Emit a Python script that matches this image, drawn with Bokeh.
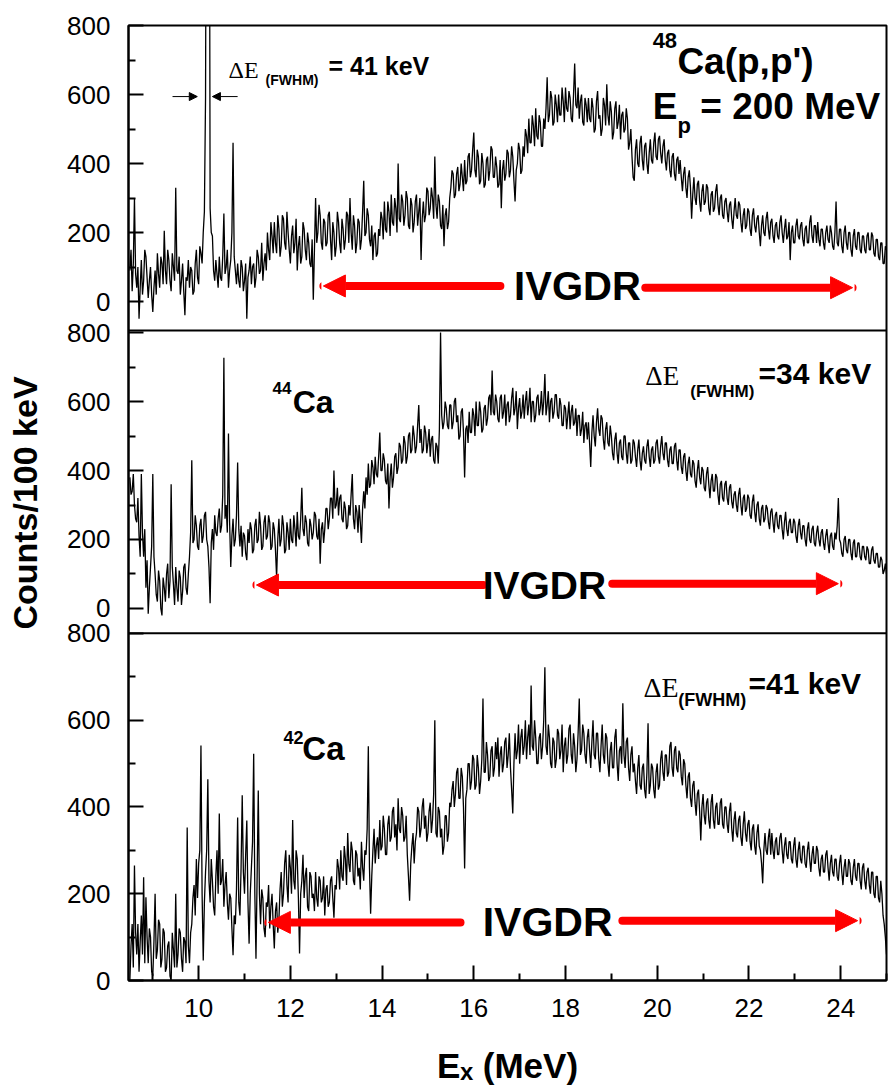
import numpy as np
from bokeh.plotting import figure
from bokeh.models import (Range1d, FixedTicker, CustomJSTickFormatter, Label,
                          Arrow, NormalHead, Span, ColumnDataSource)
from bokeh.embed import file_html
from bokeh.resources import INLINE

# ---------------------------------------------------------------- data
# Excitation-energy bins (MeV): 8.500, 8.525, ... 25.000  (one row = 1 MeV)
E_START, E_STEP = 8.5, 0.025

# 48Ca(p,p') counts per bin
ca48_counts = [
    90, 150, 30, 110, 300, 80, 40, 100, -50, 40, 120, 20, 60, 150, 130, 70, 10, 60, 100, 20, -30, 40, 90, 20, 140, 80, 40, 130, 110, 50, 205, 90, 50, 150, 120, 60, 30, 140, 100, 60,
    330, 90, 80, 130, 20, 60, 110, 30, -40, 70, 60, 120, 40, 100, 90, 20, 30, 110, 150, 70, 50, 160, 140, 110, 200, 260, 590, 1800, 3000, 2000, 270, 200, 190, 90, 60, 120, 80, 40, 130, 70,
    60, 130, 255, 80, 100, 150, 40, 90, 120, 200, 460, 130, 90, 50, 110, 60, 40, 120, 100, 30, 60, 110, -50, 70, 90, 130, 50, 100, 110, 40, 70, 150, 130, 80, 90, 170, 60, 110, 140, 90,
    200, 150, 120, 230, 190, 140, 230, 170, 140, 250, 210, 130, 160, 250, 240, 170, 150, 260, 200, 150, 110, 190, 220, 140, 170, 240, 90, 160, 190, 110, 130, 230, 210, 150, 120, 200, 170, 110, 100, 180,
    5, 150, 300, 170, 200, 280, 250, 170, 150, 240, 230, 160, 170, 250, 260, 180, 120, 230, 200, 130, 160, 260, 230, 170, 140, 240, 210, 150, 180, 260, 250, 170, 300, 200, 150, 250, 220, 140, 170, 240,
    230, 150, 180, 260, 350, 190, 200, 270, 250, 180, 160, 220, 120, 190, 200, 130, 140, 210, 190, 260, 240, 180, 290, 210, 200, 290, 260, 190, 310, 230, 220, 300, 270, 200, 400, 240, 230, 310, 290, 220,
    250, 320, 300, 220, 210, 300, 280, 200, 230, 290, 310, 220, 260, 300, 120, 240, 290, 230, 250, 330, 320, 250, 270, 330, 300, 240, 420, 280, 240, 310, 290, 220, 210, 280, 160, 250, 270, 210, 230, 300,
    330, 380, 370, 300, 310, 370, 390, 320, 340, 400, 360, 320, 410, 340, 350, 420, 430, 360, 380, 440, 490, 380, 360, 440, 420, 340, 350, 430, 400, 330, 340, 410, 420, 350, 380, 450, 440, 360, 360, 420,
    390, 330, 340, 410, 270, 380, 410, 350, 370, 440, 430, 360, 380, 450, 420, 350, 290, 380, 400, 460, 440, 370, 380, 450, 420, 500, 480, 430, 530, 460, 460, 540, 510, 450, 560, 480, 470, 540, 520, 450,
    450, 530, 500, 560, 650, 520, 540, 610, 590, 510, 520, 600, 570, 520, 600, 540, 540, 620, 580, 520, 620, 560, 550, 610, 590, 530, 520, 600, 690, 570, 560, 620, 530, 580, 600, 520, 510, 590, 570, 520,
    590, 530, 520, 590, 560, 490, 500, 580, 610, 530, 540, 480, 500, 590, 570, 510, 630, 540, 510, 580, 550, 470, 490, 560, 580, 500, 520, 570, 470, 540, 550, 490, 500, 560, 530, 440, 460, 500, 420, 360,
    350, 440, 470, 400, 390, 460, 480, 410, 380, 450, 460, 400, 370, 430, 470, 410, 400, 460, 490, 420, 410, 470, 480, 430, 400, 450, 470, 410, 380, 430, 440, 380, 360, 420, 430, 370, 350, 410, 420, 370,
    410, 360, 320, 370, 390, 330, 300, 360, 380, 330, 240, 310, 360, 300, 280, 340, 350, 290, 260, 320, 340, 280, 290, 340, 330, 270, 250, 310, 320, 260, 270, 320, 340, 280, 250, 300, 310, 250, 240, 290,
    300, 260, 230, 280, 290, 240, 210, 260, 300, 250, 240, 290, 280, 230, 200, 250, 270, 210, 220, 270, 260, 210, 190, 250, 270, 220, 200, 240, 250, 200, 160, 220, 250, 200, 190, 240, 260, 210, 180, 230,
    240, 190, 170, 220, 230, 190, 180, 230, 250, 200, 170, 210, 240, 180, 190, 230, 120, 200, 220, 170, 170, 220, 240, 190, 180, 220, 230, 180, 160, 210, 220, 170, 170, 230, 250, 190, 170, 220, 220, 170,
    230, 180, 160, 210, 210, 170, 150, 200, 220, 180, 170, 220, 200, 160, 150, 200, 290, 170, 160, 210, 210, 160, 140, 200, 220, 170, 150, 200, 200, 150, 130, 190, 210, 160, 150, 200, 200, 150, 140, 190,
    190, 150, 140, 190, 200, 150, 150, 200, 190, 140, 130, 180, 180, 130, 120, 170, 170, 110, 110, 160, 150,
]

# 44Ca counts per bin
ca44_counts = [
    380, 330, 340, 390, 300, 260, 250, 320, 210, 150, 390, 220, 150, 230, 60, 140, -15, 60, 120, 180, 390, 150, 100, 40, 20, 110, 80, 0, -20, 90, 60, 20, 100, 130, 30, 80, 360, 120, 70, 10,
    120, 60, 20, 110, 90, 10, 50, 120, 130, 60, 40, 100, 150, 220, 430, 190, 200, 270, 240, 180, 170, 240, 260, 190, 210, 270, 280, 200, 180, 120, 15, 190, 230, 170, 270, 220, 210, 260, 290, 220,
    240, 330, 727, 260, 300, 220, 507, 250, 120, 210, 260, 180, 200, 270, 423, 230, 180, 240, 150, 220, 210, 160, 140, 230, 190, 250, 230, 160, 170, 240, 260, 190, 200, 280, 240, 170, 180, 250, 270, 200,
    210, 270, 250, 170, 180, 250, 230, 170, 90, 200, 260, 180, 200, 270, 240, 160, 170, 250, 220, 170, 260, 200, 190, 270, 230, 180, 280, 210, 200, 260, 350, 230, 210, 270, 250, 190, 180, 260, 240, 200,
    220, 280, 270, 210, 200, 260, 130, 230, 250, 190, 230, 290, 290, 230, 260, 320, 320, 260, 400, 290, 300, 350, 270, 320, 330, 260, 250, 310, 290, 230, 240, 300, 270, 330, 390, 260, 230, 300, 280, 220,
    300, 250, 190, 290, 340, 290, 380, 330, 420, 350, 360, 430, 410, 360, 440, 390, 380, 440, 510, 400, 400, 450, 430, 370, 360, 420, 290, 380, 420, 350, 380, 440, 450, 390, 410, 480, 470, 420, 430, 500,
    480, 420, 440, 500, 510, 450, 460, 530, 500, 450, 470, 530, 590, 480, 520, 450, 460, 530, 510, 450, 480, 520, 440, 490, 500, 430, 420, 480, 470, 420, 520, 800, 560, 520, 540, 600, 580, 530, 520, 590,
    590, 520, 540, 600, 610, 540, 560, 490, 500, 570, 580, 510, 380, 520, 530, 480, 570, 510, 510, 580, 560, 500, 600, 530, 530, 600, 570, 510, 520, 580, 590, 530, 550, 610, 620, 560, 690, 570, 560, 620,
    600, 550, 540, 610, 620, 550, 570, 620, 530, 590, 600, 540, 560, 610, 640, 560, 580, 630, 520, 580, 610, 550, 570, 620, 550, 600, 630, 560, 590, 640, 540, 600, 600, 540, 560, 610, 620, 560, 580, 630,
    560, 600, 680, 560, 590, 630, 540, 600, 610, 550, 570, 620, 620, 560, 550, 610, 590, 530, 530, 590, 580, 520, 560, 600, 520, 570, 590, 530, 540, 580, 500, 560, 560, 500, 520, 570, 480, 530, 540, 490,
    540, 480, 410, 510, 560, 500, 470, 540, 580, 520, 500, 560, 550, 490, 460, 520, 540, 480, 470, 530, 500, 450, 430, 490, 510, 450, 420, 480, 490, 440, 430, 500, 500, 450, 420, 480, 480, 420, 430, 490,
    480, 440, 410, 460, 490, 430, 400, 450, 470, 430, 420, 470, 490, 440, 410, 460, 470, 420, 430, 480, 490, 440, 420, 470, 500, 450, 430, 480, 480, 430, 410, 460, 470, 420, 420, 470, 480, 430, 400, 460,
    460, 410, 390, 440, 450, 400, 370, 420, 440, 390, 380, 430, 420, 370, 350, 400, 430, 380, 360, 410, 400, 350, 340, 390, 410, 360, 320, 370, 390, 340, 340, 390, 380, 330, 300, 360, 370, 320, 310, 360,
    370, 320, 300, 350, 360, 310, 290, 330, 340, 300, 280, 330, 350, 300, 270, 320, 330, 280, 290, 330, 320, 270, 260, 310, 330, 280, 250, 300, 310, 260, 240, 290, 300, 250, 260, 300, 290, 250, 230, 280,
    290, 250, 220, 270, 280, 240, 230, 270, 270, 230, 200, 250, 280, 230, 210, 250, 260, 220, 220, 260, 250, 210, 190, 240, 260, 220, 200, 240, 240, 200, 180, 230, 250, 200, 190, 230, 240, 190, 180, 220,
    240, 200, 180, 220, 230, 190, 170, 210, 230, 190, 160, 210, 220, 180, 170, 220, 200, 240, 320, 200, 190, 160, 150, 200, 210, 170, 160, 200, 200, 160, 140, 190, 200, 150, 150, 190, 190, 150, 140, 180,
    180, 150, 140, 180, 170, 130, 130, 170, 180, 140, 130, 160, 160, 120, 120, 150, 140, 100, 110, 130, 100,
]

# 42Ca counts per bin
ca42_counts = [
    0, 80, 130, 30, 265, 110, 60, 130, 20, 90, 150, 60, 238, 40, 192, 100, 40, 120, 100, 20, 10, 90, 200, 50, 70, 140, 130, 30, 50, 120, 110, 20, 30, 80, 90, 10, 0, 110, 70, 30,
    200, 30, 60, 120, 110, 50, 20, 100, 90, 40, 353, 80, 40, 110, 130, 190, 220, 150, 280, 190, 270, 300, 542, 200, 46, 180, 250, 300, 464, 230, 180, 280, 230, 170, 150, 240, 300, 200, 385, 220,
    230, 280, 170, 220, 250, 180, 140, 200, 190, 120, 58, 150, 130, 210, 376, 180, 150, 260, 427, 250, 200, 290, 369, 180, 85, 200, 260, 320, 523, 200, 50, 240, 438, 200, 130, 210, 190, 120, 100, 180,
    170, 220, 120, 170, 200, 130, 74, 160, 180, 110, 140, 210, 250, 170, 200, 270, 300, 220, 180, 290, 260, 200, 370, 230, 210, 300, 280, 190, 62, 200, 230, 290, 190, 240, 260, 170, 160, 250, 240, 190,
    200, 160, 250, 190, 170, 240, 230, 180, 190, 240, 150, 210, 220, 170, 180, 230, 240, 190, 145, 220, 210, 280, 260, 210, 300, 240, 230, 310, 280, 220, 340, 270, 250, 320, 300, 230, 220, 300, 290, 240,
    260, 210, 320, 260, 230, 300, 290, 350, 540, 260, 154, 240, 300, 350, 270, 310, 330, 280, 370, 300, 310, 380, 350, 290, 290, 360, 380, 320, 330, 390, 400, 330, 360, 300, 420, 350, 340, 400, 380, 320,
    330, 380, 290, 240, 184, 270, 310, 340, 270, 320, 340, 400, 390, 330, 350, 400, 420, 350, 380, 320, 340, 390, 410, 340, 370, 430, 600, 340, 330, 400, 390, 330, 350, 290, 310, 380, 380, 320, 340, 410,
    400, 440, 460, 400, 430, 480, 490, 420, 420, 490, 470, 400, 258, 420, 440, 500, 500, 440, 460, 520, 510, 440, 450, 520, 490, 430, 460, 510, 650, 480, 480, 550, 520, 460, 470, 530, 540, 470, 490, 550,
    510, 560, 470, 520, 540, 480, 500, 550, 560, 490, 520, 570, 490, 440, 385, 500, 570, 510, 530, 590, 500, 560, 580, 520, 540, 600, 510, 560, 590, 520, 680, 540, 530, 600, 560, 500, 500, 560, 570, 510,
    540, 600, 722, 540, 520, 590, 560, 500, 490, 560, 550, 490, 510, 580, 570, 510, 530, 590, 480, 540, 560, 500, 520, 580, 590, 520, 500, 570, 540, 480, 510, 570, 650, 520, 530, 590, 570, 520, 500, 560,
    580, 530, 490, 550, 600, 520, 510, 570, 570, 510, 480, 540, 590, 520, 500, 570, 560, 500, 470, 530, 550, 490, 490, 560, 580, 500, 460, 530, 540, 500, 639, 520, 490, 550, 560, 490, 460, 520, 540, 480,
    500, 460, 430, 490, 520, 450, 440, 490, 500, 440, 420, 480, 593, 430, 450, 500, 490, 440, 420, 480, 500, 440, 450, 510, 530, 480, 460, 520, 520, 470, 480, 540, 550, 490, 470, 530, 540, 490, 480, 530,
    520, 470, 450, 510, 500, 450, 420, 470, 480, 420, 400, 450, 460, 410, 380, 430, 440, 390, 323, 400, 430, 380, 360, 410, 420, 370, 350, 410, 430, 370, 350, 400, 410, 360, 360, 410, 420, 360, 350, 400,
    400, 360, 340, 390, 410, 350, 320, 370, 390, 340, 330, 370, 380, 330, 310, 360, 390, 340, 320, 360, 370, 320, 300, 350, 360, 310, 290, 340, 360, 310, 300, 270, 224, 300, 340, 300, 290, 330, 350, 290,
    340, 300, 280, 320, 330, 290, 290, 330, 340, 300, 270, 310, 330, 290, 280, 320, 320, 280, 270, 310, 330, 280, 260, 300, 320, 280, 270, 310, 310, 270, 260, 300, 320, 280, 250, 290, 310, 270, 270, 310,
    300, 260, 240, 280, 290, 250, 250, 290, 300, 260, 230, 270, 290, 250, 240, 280, 280, 240, 230, 270, 290, 250, 220, 260, 280, 240, 240, 280, 270, 230, 220, 260, 280, 240, 230, 270, 270, 230, 210, 260,
    270, 230, 210, 250, 260, 220, 200, 250, 250, 200, 190, 240, 240, 190, 180, 230, 200, 150, 130, 100, 60,
]

y_major = [0, 200, 400, 600, 800]
y_minor = [100, 300, 500, 700]
x_major = [10, 12, 14, 16, 18, 20, 22, 24]
x_minor = [9, 11, 13, 15, 17, 19, 21, 23, 25]


def energies(counts):
    return np.round(E_START + E_STEP * np.arange(len(counts)), 3)


# ---------------------------------------------------------------- ranges
# One frame holds the three stacked panels; each panel has its own y scale.
X_LO, X_HI = 8.47, 25.0
main_range = Range1d(0, 2201.7)          # 42Ca panel (bottom)
p1_range = Range1d(-1968.1, 800.0)       # 48Ca panel (top)
p2_range = Range1d(-1078.3, 1689.9)      # 44Ca panel (middle)
P1_BOTTOM = -84.0                        # lower edge of the 48Ca panel
P2_BOTTOM = -72.0                        # lower edge of the 44Ca panel


def to_main(v, rng):
    """Position of value v of a panel scale on the shared frame scale."""
    return (v - rng.start) / (rng.end - rng.start) * (main_range.end - main_range.start)


p = figure(width=889, height=1088, output_backend="svg", toolbar_location=None,
           x_range=Range1d(X_LO, X_HI), y_range=main_range,
           min_border_left=128, min_border_right=3, min_border_top=25,
           min_border_bottom=108)
p.extra_y_ranges = {"p1": p1_range, "p2": p2_range}
p.grid.visible = False
p.background_fill_color = "white"
p.border_fill_color = "white"
p.outline_line_color = "black"
p.outline_line_width = 2

# ---------------------------------------------------------------- axes
tick_pos, tick_lab, minor_pos = [], [], []
for rng in (p1_range, p2_range, None):
    for v in y_major:
        tick_pos.append(v if rng is None else to_main(v, rng))
        tick_lab.append(str(v))
    for v in y_minor:
        minor_pos.append(v if rng is None else to_main(v, rng))

yax = p.yaxis[0]
yax.ticker = FixedTicker(ticks=tick_pos, minor_ticks=minor_pos)
yax.formatter = CustomJSTickFormatter(args=dict(pos=tick_pos, lab=tick_lab), code="""
    let best = 0, d = 1e12;
    for (let i = 0; i < pos.length; i++) {
        const e = Math.abs(pos[i] - tick);
        if (e < d) { d = e; best = i; }
    }
    return lab[best];
""")
yax.axis_label = "Counts/100 keV"
yax.axis_label_standoff = 20

xax = p.xaxis[0]
xax.ticker = FixedTicker(ticks=x_major, minor_ticks=x_minor)
xax.axis_label = "E\u2093 (MeV)"
xax.axis_label_standoff = 26

for ax in (xax, yax):
    ax.axis_line_color = "black"
    ax.axis_line_width = 2
    ax.major_tick_in = 15
    ax.major_tick_out = 0
    ax.minor_tick_in = 7
    ax.minor_tick_out = 0
    ax.major_tick_line_width = 2
    ax.minor_tick_line_width = 2
    ax.major_label_text_font = "Liberation Sans"
    ax.major_label_text_font_size = "26px"
    ax.major_label_text_color = "black"
    ax.axis_label_text_font = "Liberation Sans"
    ax.axis_label_text_font_style = "bold"
    ax.axis_label_text_color = "black"
yax.axis_label_text_font_size = "34px"
xax.axis_label_text_font_size = "35px"
yax.major_label_standoff = 18
xax.major_label_standoff = 18

# panel separators
for loc in (to_main(P1_BOTTOM, p1_range), to_main(P2_BOTTOM, p2_range)):
    p.add_layout(Span(location=loc, dimension="width", line_color="black", line_width=2))

# ---------------------------------------------------------------- spectra
LW = 1.3
for counts, rng in ((ca48_counts, "p1"), (ca44_counts, "p2"), (ca42_counts, "default")):
    src = ColumnDataSource(dict(e=energies(counts), c=counts))
    p.line("e", "c", source=src, y_range_name=rng, line_color="black", line_width=LW)

# ---------------------------------------------------------------- annotations
SANS = "Liberation Sans"
SERIF = "Liberation Serif"


def label(x, y, text, size, rng=None, bold=True, font=SANS, align="left"):
    kw = dict(x=x, y=y, text=text, text_font=font, text_font_size=f"{size}px",
              text_font_style="bold" if bold else "normal", text_color="black",
              text_align=align, text_baseline="middle")
    if rng is not None:
        kw["y_range_name"] = rng
    p.add_layout(Label(**kw))


def red_arrow(x0, x1, y, rng=None):
    kw = dict(x_start=x0, y_start=y, x_end=x1, y_end=y, line_color="red",
              line_width=8, line_cap="round",
              end=NormalHead(size=22, fill_color="red", line_color="red", line_width=1))
    if rng is not None:
        kw["y_range_name"] = rng
    p.add_layout(Arrow(**kw))


# 48Ca panel
label(19.90, 757, "48", 22, "p1")
label(20.44, 696, "Ca(p,p')", 37, "p1")
label(19.90, 565, "E", 37, "p1")
label(20.44, 510, "p", 22, "p1")
label(20.94, 565, "= 200 MeV", 37, "p1")
label(10.65, 672, "\u0394E", 24, "p1", bold=False, font=SERIF)
label(11.46, 641, "(FWHM)", 14, "p1")
label(12.83, 684, "= 41 keV", 25, "p1")
for xa, xb in ((9.43, 9.97), (10.85, 10.30)):
    p.add_layout(Arrow(x_start=xa, y_start=594, x_end=xb, y_end=594, y_range_name="p1",
                       line_color="black", line_width=1,
                       end=NormalHead(size=8, fill_color="black", line_color="black")))
red_arrow(16.58, 12.72, 45, "p1")
red_arrow(19.74, 24.26, 40, "p1")
label(18.26, 46, "IVGDR", 40, "p1", align="center")

# 44Ca panel
label(11.61, 638, "44", 17, "p2")
label(12.05, 600, "Ca", 32, "p2")
label(19.74, 675, "\u0394E", 27, "p2", bold=False, font=SERIF)
label(20.72, 629, "(FWHM)", 17, "p2")
label(22.21, 681, "=34 keV", 30, "p2")
red_arrow(16.21, 11.26, 68, "p2")
red_arrow(19.02, 23.95, 72, "p2")
label(17.54, 67, "IVGDR", 39, "p2", align="center")

# 42Ca panel
label(11.85, 560, "42", 18, None)
label(12.26, 535, "Ca", 33, None)
label(19.70, 676, "\u0394E", 28, None, bold=False, font=SERIF)
label(20.46, 646, "(FWHM)", 18, None)
label(21.99, 685, "=41 keV", 30, None)
red_arrow(15.71, 11.52, 134, None)
red_arrow(19.24, 24.37, 138, None)
label(17.61, 134, "IVGDR", 41, None, align="center")

open("out.html", "w").write(file_html(p, INLINE))
